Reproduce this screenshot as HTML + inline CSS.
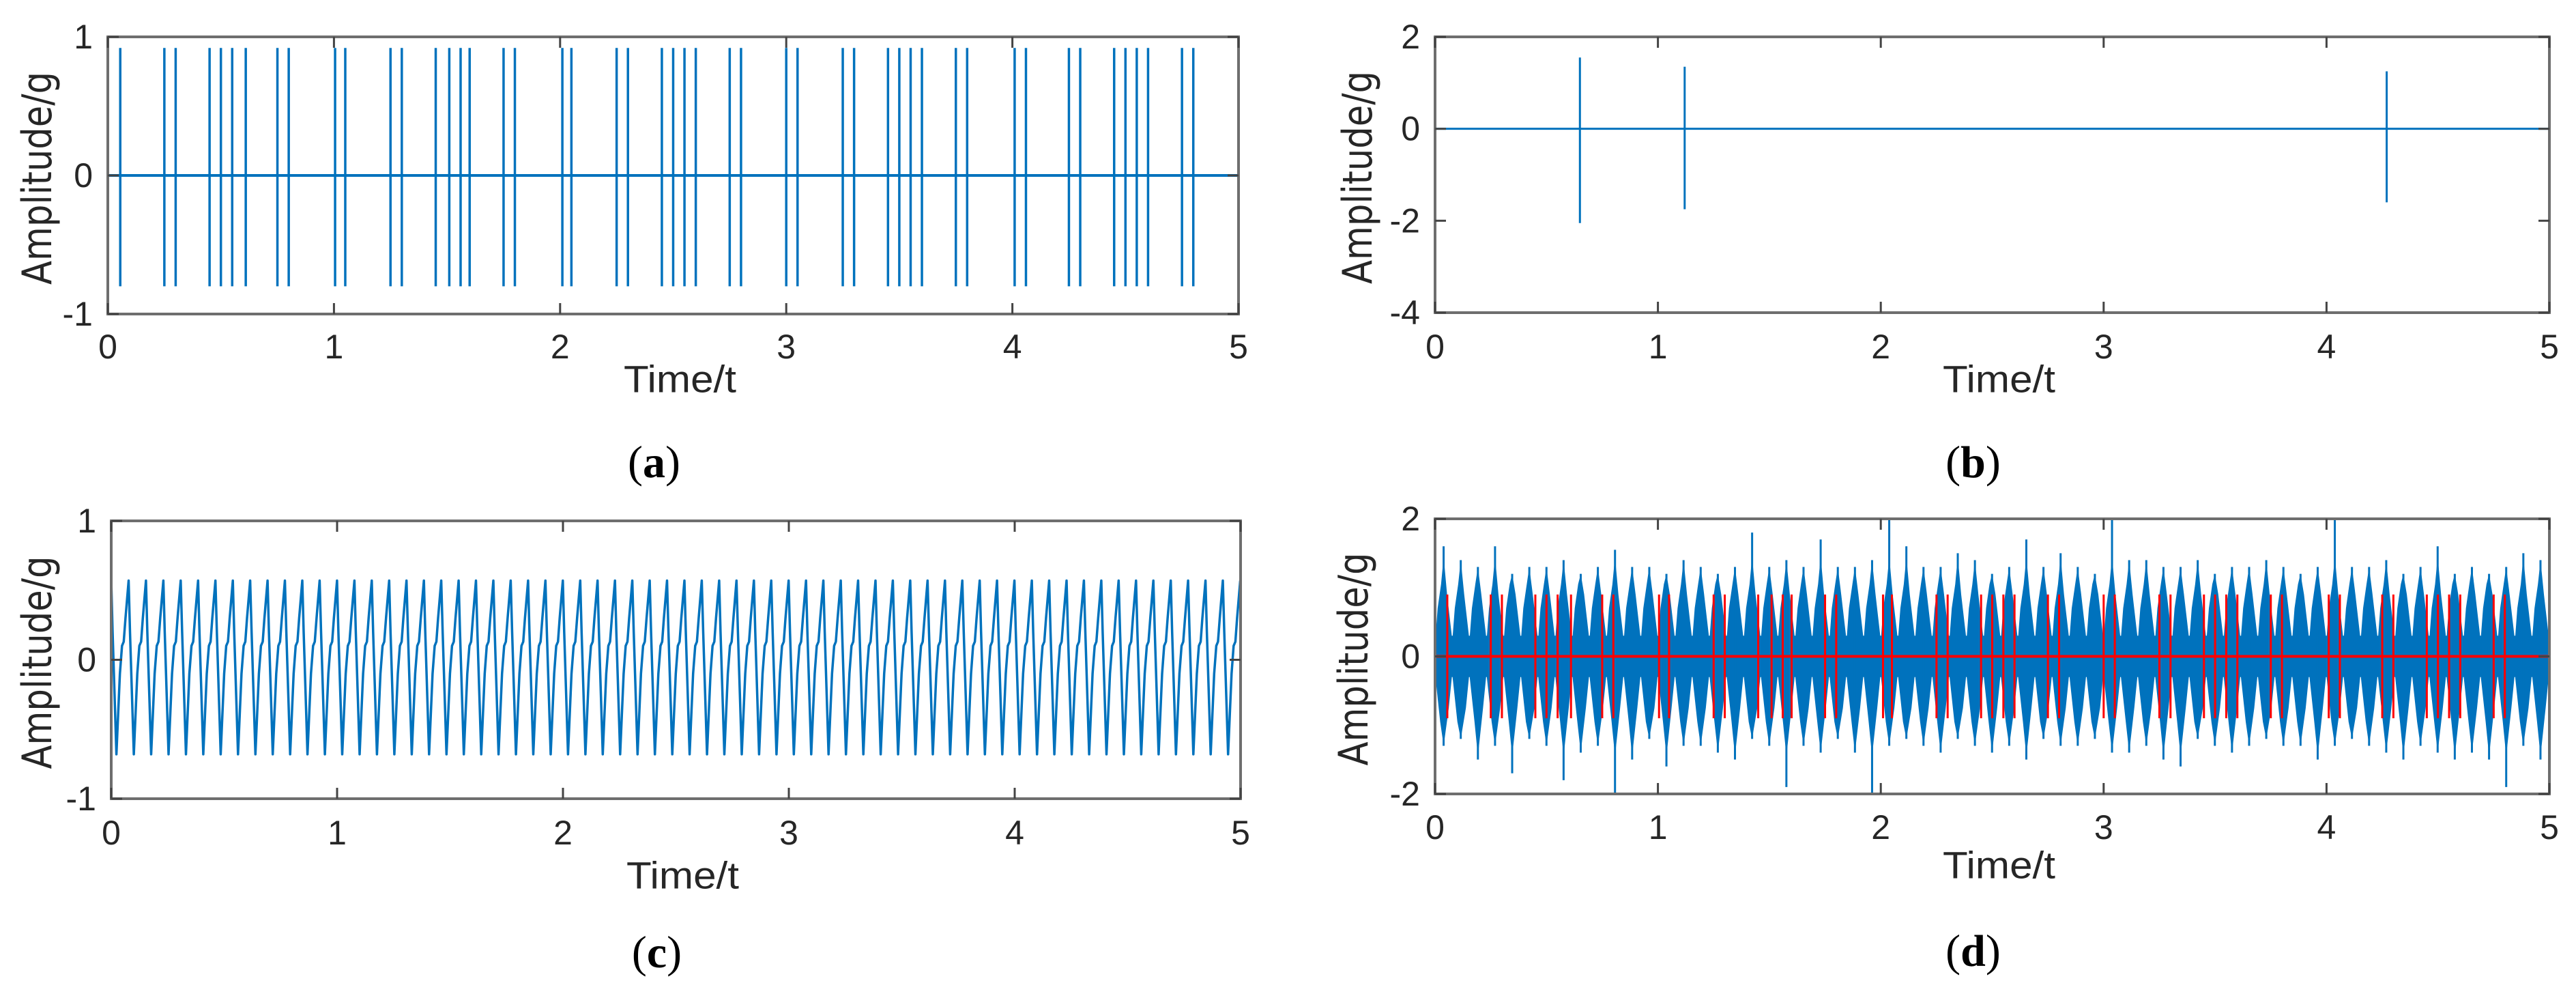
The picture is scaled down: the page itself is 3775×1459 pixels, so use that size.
<!DOCTYPE html>
<html><head><meta charset="utf-8"><style>
html,body{margin:0;padding:0;background:#fff;}
svg{display:block;}
text{font-family:"Liberation Sans",sans-serif;fill:#262626;}
</style></head><body>
<svg id="fig" width="3775" height="1459" viewBox="0 0 3775 1459" xmlns="http://www.w3.org/2000/svg"></svg>
<script>
// ---- data ----
const xTicks = [0,1,2,3,4,5];
const yTicksA = [-1,0,1];
const yTicksB = [-4,-2,0,2];
const yTicksC = [-1,0,1];
const yTicksD = [-2,0,2];
// (a) impulse times and amplitudes
const impulseTimes = [0.0,0.055,0.25,0.30,0.45,0.50,0.55,0.61,0.75,0.80,1.005,1.05,1.25,1.30,1.45,1.51,1.56,1.60,1.75,1.80,2.01,2.05,2.25,2.30,2.45,2.50,2.55,2.60,2.75,2.80,3.00,3.05,3.25,3.30,3.45,3.50,3.55,3.60,3.75,3.80,4.01,4.06,4.25,4.30,4.45,4.50,4.55,4.60,4.75,4.80];
const impulseTop = 0.92;
const impulseBottom = -0.8;
// (b) random impacts
const bTimes = [0.65,1.12,4.27];
const bTops = [1.55,1.35,1.25];
const bBottoms = [-2.05,-1.75,-1.6];
// (c) periodic signal: one cycle template
const cPeriod = 0.0769;
const cPhase = [0,0.08,0.30,0.50,0.62,0.72,0.82,1.0];
const cValue = [0.57,0.2,-0.68,-0.1,0.1,0.13,0.3,0.57];
// (d) composite: burst peak values per cycle
const dPeriod = 0.0769;
const dTops = [1.6,1.4,1.3,1.6,1.2,1.3,1.3,1.4,1.2,1.3,1.55,1.3,1.3,1.2,1.4,1.3,1.2,1.3,1.8,1.3,1.4,1.3,1.7,1.3,1.3,1.4,2.0,1.6,1.3,1.3,1.5,1.4,1.2,1.3,1.7,1.3,1.5,1.3,1.2,2.0,1.4,1.4,1.3,1.3,1.4,1.2,1.3,1.3,1.4,1.3,1.2,1.3,2.0,1.3,1.3,1.4,1.2,1.3,1.6,1.2,1.3,1.2,1.3,1.5,1.4];
const dBottoms = [-1.3,-1.2,-1.5,-1.3,-1.7,-1.2,-1.3,-1.8,-1.4,-1.3,-2.0,-1.5,-1.2,-1.6,-1.3,-1.3,-1.4,-1.5,-1.2,-1.3,-1.9,-1.3,-1.4,-1.2,-1.4,-2.0,-1.3,-1.2,-1.3,-1.4,-1.2,-1.3,-1.4,-1.3,-1.5,-1.2,-1.3,-1.3,-1.2,-1.4,-1.4,-1.3,-1.5,-1.6,-1.2,-1.3,-1.4,-1.3,-1.2,-1.3,-1.3,-1.5,-1.3,-1.2,-1.3,-1.4,-1.5,-1.3,-1.4,-1.5,-1.4,-1.5,-1.9,-1.3,-1.5];
const dRedTop = 0.9, dRedBottom = -0.9;

const NS='http://www.w3.org/2000/svg';
const svg=document.getElementById('fig');
function mk(tag,attrs,parent){const e=document.createElementNS(NS,tag);for(const k in attrs)e.setAttribute(k,attrs[k]);(parent||svg).appendChild(e);return e;}
const BLUE='#0072BD';

function panel(id,L,R,T,B,ymin,ymax,yTicks,ylabX,captionTxt,capY,xlabY,tickY){
  const g=mk('g',{});
  
  
  const sx=v=>L+(v-0)/(5-0)*(R-L);
  const sy=v=>B-(v-ymin)/(ymax-ymin)*(B-T);
  const plot=mk('g',{},g);
  
  
  const frame=mk('g',{},g);
  const box=mk('rect',{x:L,y:T,width:R-L,height:B-T,fill:'none',stroke:'#6e6e6e','stroke-width':4},frame);
  
  
  xTicks.forEach(v=>{
    const x=sx(v);
    mk('line',{x1:x,y1:B,x2:x,y2:B-16,stroke:'#444','stroke-width':3},frame);
    mk('line',{x1:x,y1:T,x2:x,y2:T+16,stroke:'#444','stroke-width':3},frame);
    const t=mk('text',{x:x,y:tickY,'font-size':50,'text-anchor':'middle','dominant-baseline':'central'},frame);
    t.textContent=v;
    
    
  });
  yTicks.forEach(v=>{
    const y=sy(v);
    mk('line',{x1:L,y1:y,x2:L+16,y2:y,stroke:'#444','stroke-width':3},frame);
    mk('line',{x1:R,y1:y,x2:R-16,y2:y,stroke:'#444','stroke-width':3},frame);
    const t=mk('text',{x:L-22,y:y,'font-size':50,'text-anchor':'end','dominant-baseline':'central'},frame);
    t.textContent=v<0?'-'+Math.abs(v):v;
    
    
  });
  const yl=mk('text',{x:0,y:0,'font-size':60,'text-anchor':'middle','dominant-baseline':'central',transform:`translate(${ylabX},${(T+B)/2+4}) rotate(-90)`,textLength:312,lengthAdjust:'spacingAndGlyphs',style:'font-family:"DejaVu Sans",sans-serif'},frame);
  yl.textContent='Amplitude/g';
  
  
  const xl=mk('text',{x:(L+R)/2+10,y:xlabY,'font-size':56,'text-anchor':'middle','dominant-baseline':'central',textLength:165,lengthAdjust:'spacingAndGlyphs'},frame);
  xl.textContent='Time/t';
  
  
  const cap=mk('text',{x:(L+R)/2-28,y:capY,'font-size':66,'text-anchor':'middle','dominant-baseline':'central',style:'font-family:"Liberation Serif",serif;fill:#000'},g);
  cap.innerHTML='(<tspan font-weight="bold">'+captionTxt+'</tspan>)';
  
  
  return {sx,sy,plot,L,R,T,B};
}

// (a)
const A=panel('a',158,1815,54,460,-1,1,yTicksA,55,'a',677,555,508);
mk('line',{x1:A.sx(0),y1:A.sy(0),x2:A.sx(5),y2:A.sy(0),stroke:BLUE,'stroke-width':4},A.plot);
impulseTimes.forEach(t=>{
  const l=mk('line',{x1:A.sx(t),y1:A.sy(impulseTop),x2:A.sx(t),y2:A.sy(impulseBottom),stroke:BLUE,'stroke-width':3.5},A.plot);
  
  
});

// (b)
const Bp=panel('b',2103,3736,54,458,-4,2,yTicksB,1990,'b',677,555,508);
mk('line',{x1:Bp.sx(0),y1:Bp.sy(0),x2:Bp.sx(5),y2:Bp.sy(0),stroke:BLUE,'stroke-width':3},Bp.plot);
bTimes.forEach((t,i)=>{
  const l=mk('line',{x1:Bp.sx(t),y1:Bp.sy(bTops[i]),x2:Bp.sx(t),y2:Bp.sy(bBottoms[i]),stroke:BLUE,'stroke-width':3},Bp.plot);
  
  
});

// (c)
const C=panel('c',163,1818,763,1170,-1,1,yTicksC,55,'c',1395,1282,1220);
{
  let pts=[];
  for(let k=0;k*cPeriod<5;k++){
    for(let j=0;j<cPhase.length;j++){
      const t=(k+cPhase[j])*cPeriod;
      if(t>5)break;
      pts.push(C.sx(t).toFixed(1)+','+C.sy(cValue[j]).toFixed(1));
    }
  }
  const p=mk('polyline',{points:pts.join(' '),fill:'none',stroke:BLUE,'stroke-width':3.5,'stroke-linejoin':'round'},C.plot);
  
  
}

// (d)
const D=panel('d',2103,3736,760,1163,-2,2,yTicksD,1984,'d',1393,1267,1212);
{
  const core=mk('rect',{x:D.sx(0),y:D.sy(0.3),width:D.sx(5)-D.sx(0),height:D.sy(-0.3)-D.sy(0.3),fill:BLUE},D.plot);
  
  
  dTops.forEach((v,i)=>{
    const t0=i*dPeriod;
    if(t0>5)return;
    const t1=Math.min(5,t0+dPeriod);
    const tm=t0+0.5*dPeriod;
    const pts=[[t0,0.2],[t0+0.15*dPeriod,0.7],[t0+0.35*dPeriod,1.05],[tm,Math.min(v,1.45)],[t0+0.7*dPeriod,0.9],[t1,0.25]];
    const p=mk('polygon',{points:pts.map(q=>D.sx(Math.min(5,q[0])).toFixed(1)+','+D.sy(q[1]).toFixed(1)).join(' '),fill:BLUE},D.plot);
    
    
    const s=mk('line',{x1:D.sx(Math.min(5,tm)),y1:D.sy(0),x2:D.sx(Math.min(5,tm)),y2:D.sy(v),stroke:BLUE,'stroke-width':3},D.plot);
    
    
  });
  dBottoms.forEach((v,i)=>{
    const a=i*dPeriod;
    if(a>5)return;
    const b=Math.min(5,a+dPeriod), tm=a+0.5*dPeriod;
    const pts=[[a,-0.25],[a+0.3*dPeriod,-0.95],[tm,Math.max(v,-1.45)],[a+0.8*dPeriod,-0.75],[b,-0.25]];
    const p=mk('polygon',{points:pts.map(q=>D.sx(Math.min(5,q[0])).toFixed(1)+','+D.sy(q[1]).toFixed(1)).join(' '),fill:BLUE},D.plot);
    
    
    const s=mk('line',{x1:D.sx(Math.min(5,tm)),y1:D.sy(0),x2:D.sx(Math.min(5,tm)),y2:D.sy(v),stroke:BLUE,'stroke-width':3},D.plot);
    
    
  });
  mk('line',{x1:D.sx(0),y1:D.sy(0),x2:D.sx(5),y2:D.sy(0),stroke:'#ff0000','stroke-width':4},D.plot);
  impulseTimes.forEach(t=>{
    const l=mk('line',{x1:D.sx(t),y1:D.sy(dRedTop),x2:D.sx(t),y2:D.sy(dRedBottom),stroke:'#ff0000','stroke-width':3},D.plot);
    
    
  });
}
</script>
</body></html>
